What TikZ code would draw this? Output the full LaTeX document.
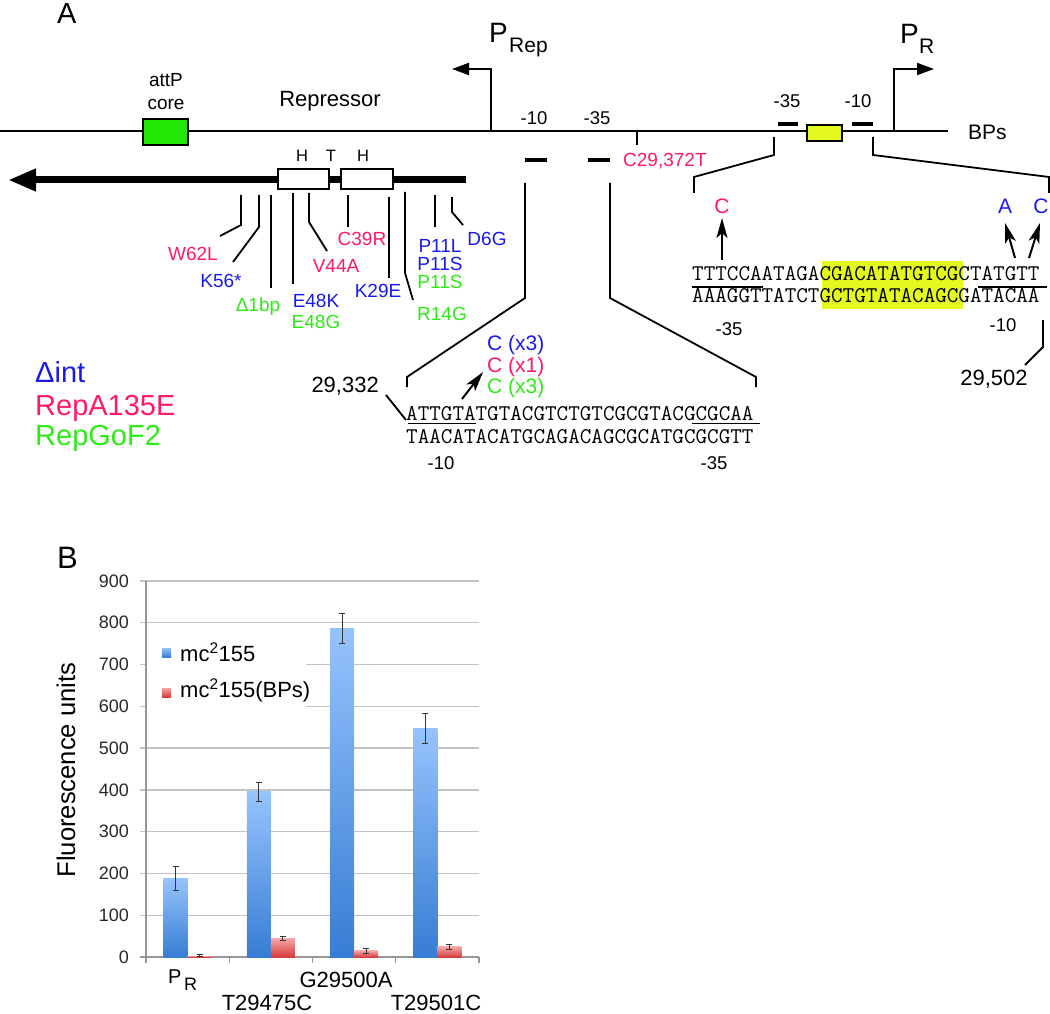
\documentclass[tikz,border=0pt]{standalone}
\usepackage{fontspec}
\setmainfont{Liberation Sans}
\usetikzlibrary{arrows.meta}

\definecolor{mutblue}{RGB}{25,25,235}
\definecolor{mutpink}{RGB}{255,25,105}
\definecolor{mutgreen}{RGB}{45,235,20}
\definecolor{attpgreen}{RGB}{35,230,5}
\definecolor{opyellow}{RGB}{228,250,30}
\definecolor{gridgray}{RGB}{195,195,195}
\definecolor{axisgray}{RGB}{150,150,150}
\definecolor{ticktext}{RGB}{40,40,40}
\definecolor{bluetop}{RGB}{150,195,252}
\definecolor{bluebot}{RGB}{55,125,212}
\definecolor{redtop}{RGB}{246,165,165}
\definecolor{redbot}{RGB}{214,60,60}

\newcommand{\pxfont}[1]{\fontsize{#1}{#1}\selectfont}

\tikzset{
  mapline/.style={draw, line width=1.3pt},
  geneline/.style={draw, line width=7pt,
                   -{Triangle[length=28pt, width=21pt]}},
  promoter/.style={draw, line width=2pt,
                   -{Triangle[length=17pt, width=12pt]}},
  attpbox/.style={draw, fill=attpgreen, line width=1.3pt, inner sep=0pt,
                  minimum width=45pt, minimum height=26pt},
  opbox/.style={draw, fill=opyellow, line width=1.3pt, inner sep=0pt,
                minimum width=35pt, minimum height=16pt},
  domainbox/.style={draw, fill=white, line width=1.3pt, inner sep=0pt,
                    minimum height=20pt},
  boxdash/.style={draw, line width=4.5pt},
  tickline/.style={draw, line width=1.8pt},
  zoomline/.style={draw, line width=1.8pt},
  seqline/.style={draw, line width=1.4pt},
  mutarrow/.style={draw, line width=2pt,
                   -{Stealth[length=20pt, width=11pt, inset=5pt]}},
  maptext/.style={inner sep=0pt, anchor=base, font=\pxfont{22}},
  boxtag/.style={maptext, font=\pxfont{18.5}},
  mutlabel/.style={maptext, font=\pxfont{19}},
  seqtext/.style={inner sep=0pt, anchor=base west,
                  font=\ttfamily\pxfont{22.48}},
  legendtext/.style={inner sep=0pt, anchor=base west, font=\pxfont{29}},
  chartgrid/.style={draw=gridgray, line width=1.3pt},
  chartaxis/.style={draw=axisgray, line width=1.3pt},
  ticklabel/.style={inner sep=0pt, anchor=east, text=ticktext,
                    font=\pxfont{18}},
  bluebar/.style={top color=bluetop, bottom color=bluebot},
  redbar/.style={top color=redtop, bottom color=redbot},
  errbar/.style={draw=black!80, line width=1pt}
}

\begin{document}
\begin{tikzpicture}[x=1pt, y=-1pt]
  \useasboundingbox (0,0) rectangle (1050,1014);

  % A: the prophage map
  \node[maptext, anchor=base west, font=\pxfont{29}] (tagA) at (57,24) {A};
  \coordinate (mapL) at (0,131);
  \coordinate (mapR) at (948,131);
  \draw[mapline] (mapL) -- (mapR);
  \node[maptext, anchor=base west, font=\pxfont{21}] (bps) at (968,140) {BPs};

  \node[attpbox] (attp) at (165.5,132) {};
  \node[mutlabel] (attp1) at (166,87) {attP};
  \node[mutlabel] (attp2) at (166,110) {core};
  \node[maptext] (repr) at (330,107) {Repressor};

  \coordinate (prepfoot) at (491,131);
  \coordinate (preptip) at (452,69);
  \draw[promoter] (prepfoot) |- (preptip);
  \node[maptext, anchor=base west, font=\pxfont{28}] (prepP) at (489,43) {P};
  \node[maptext, anchor=base west, font=\pxfont{21}] (prepsub) at (509,53) {Rep};
  \coordinate (prfoot) at (894,131);
  \coordinate (prtip) at (934,69);
  \draw[promoter] (prfoot) |- (prtip);
  \node[maptext, anchor=base west, font=\pxfont{28}] (prP) at (900,44) {P};
  \node[maptext, anchor=base west, font=\pxfont{21}] (prsub) at (919,54) {R};

  \node[boxtag] (rep10) at (534,125) {-10};
  \node[boxtag] (rep35) at (597,125) {-35};
  \draw[boxdash] (525,160) -- (547,160);
  \draw[boxdash] (588,160) -- (610,160);
  \node[boxtag] (pr35) at (787,108) {-35};
  \node[boxtag] (pr10) at (858,108) {-10};
  \draw[boxdash] (778,124) -- (798,124);
  \draw[boxdash] (852,124) -- (873,124);
  \node[opbox] (op) at (824.5,133) {};

  \coordinate (c29) at (637,131);
  \draw[tickline] (c29) -- ++(0,14);
  \node[mutlabel, anchor=base west, text=mutpink] (c29lab) at (623,167) {C29,372T};

  % repressor gene and its mutations
  \coordinate (geneS) at (466,180);
  \coordinate (geneE) at (8,180);
  \draw[geneline] (geneS) -- (geneE);
  \node[domainbox, minimum width=51pt] (hth1) at (303.5,179) {};
  \node[domainbox, minimum width=52pt] (hth2) at (367,179) {};
  \node[maptext, font=\pxfont{16.5}] (dH1) at (302,162) {H};
  \node[maptext, font=\pxfont{16.5}] (dT) at (331,162) {T};
  \node[maptext, font=\pxfont{16.5}] (dH2) at (363,162) {H};

  \draw[tickline] (241,195) coordinate (mW62L) -- ++(0,30) -- ++(-21,11);
  \draw[tickline] (259,195) coordinate (mK56) -- ++(0,32) -- ++(-26,35);
  \draw[tickline] (271,195) coordinate (mD1bp) -- ++(0,93);
  \draw[tickline] (293,193) coordinate (mE48) -- ++(0,91);
  \draw[tickline] (309,193) coordinate (mV44A) -- ++(0,29) -- ++(18,29);
  \draw[tickline] (348,195) coordinate (mC39R) -- ++(0,32);
  \draw[tickline] (389,197) coordinate (mK29E) -- ++(0,81);
  \draw[tickline] (405,192) coordinate (mR14G) -- ++(0,81) -- ++(8,27);
  \draw[tickline] (435,195) coordinate (mP11) -- ++(0,32);
  \draw[tickline] (452,197) coordinate (mD6G) -- ++(0,15) -- ++(11,13);

  \node[mutlabel, text=mutpink] (w62l) at (193,260) {W62L};
  \node[mutlabel, text=mutblue] (k56) at (221,287) {K56*};
  \node[mutlabel, text=mutgreen] (d1bp) at (258,311) {Δ1bp};
  \node[mutlabel, text=mutblue] (e48k) at (316,307) {E48K};
  \node[mutlabel, text=mutgreen] (e48g) at (316,328) {E48G};
  \node[mutlabel, text=mutpink] (v44a) at (336,272) {V44A};
  \node[mutlabel, text=mutpink] (c39r) at (362,245) {C39R};
  \node[mutlabel, text=mutblue] (k29e) at (378,297) {K29E};
  \node[mutlabel, text=mutgreen] (r14g) at (442,320) {R14G};
  \node[mutlabel, text=mutblue] (p11l) at (440,252) {P11L};
  \node[mutlabel, text=mutblue] (p11s) at (440,270) {P11S};
  \node[mutlabel, text=mutgreen] (p11sg) at (440,288) {P11S};
  \node[mutlabel, text=mutblue] (d6g) at (487,245) {D6G};

  % close-up of P_Rep
  \coordinate (rep10foot) at (525,183);
  \coordinate (rep35foot) at (610,183);
  \draw[zoomline] (rep10foot) -- ++(0,115) -- (407,377) -- ++(0,10);
  \draw[zoomline] (rep35foot) -- ++(0,115) -- (756,377) -- ++(0,10);
  \node[seqtext] (repTop) at (406,420) {ATTGTATGTACGTCTGTCGCGTACGCGCAA};
  \node[seqtext] (repBot) at (406,443) {TAACATACATGCAGACAGCGCATGCGCGTT};
  \draw[seqline] (408,423.5) -- (476,423.5);
  \draw[seqline] (692,423.5) -- (760,423.5);
  \node[boxtag] (rep10b) at (441,469) {-10};
  \node[boxtag] (rep35b) at (714,469) {-35};
  \node[maptext, anchor=base east] (pos332) at (379,392) {29,332};
  \draw[tickline] (386,395) -- (repTop.base west);
  \node[maptext, anchor=base west, font=\pxfont{21}, text=mutblue] (cx3a) at (487,350) {C (x3)};
  \node[maptext, anchor=base west, font=\pxfont{21}, text=mutpink] (cx1) at (487,372) {C (x1)};
  \node[maptext, anchor=base west, font=\pxfont{21}, text=mutgreen] (cx3b) at (487,393) {C (x3)};
  \draw[mutarrow] (462,399) -- (483,372);

  % close-up of P_R
  \coordinate (pr35foot) at (774,137);
  \coordinate (pr10foot) at (873,137);
  \draw[zoomline] (pr35foot) -- ++(0,18) -- (694,177) -- ++(0,16);
  \draw[zoomline] (pr10foot) -- ++(0,18) -- (1049,177) -- ++(0,16);
  \fill[opyellow] (822,261) rectangle (963,309);
  \node[seqtext] (prTop) at (692,280) {TTTCCAATAGACGACATATGTCGCTATGTT};
  \node[seqtext] (prBot) at (692,302) {AAAGGTTATCTGCTGTATACAGCGATACAA};
  \draw[seqline] (692,287) -- (763,287);
  \draw[seqline] (978,287) -- (1047,287);
  \node[boxtag] (pr35b) at (729,335) {-35};
  \node[boxtag] (pr10b) at (1003,331) {-10};
  \node[maptext] (pos502) at (994,385) {29,502};
  \draw[tickline] (1043,320) -- ++(0,27) -- (1025,365);
  \node[maptext, font=\pxfont{21}, text=mutpink] (subC) at (722,213) {C};
  \node[maptext, font=\pxfont{21}, text=mutblue] (subA) at (1005,213) {A};
  \node[maptext, font=\pxfont{21}, text=mutblue] (subC2) at (1041,213) {C};
  \draw[mutarrow] (722,260) -- (722,218);
  \draw[mutarrow] (1015,258) -- (1005,223);
  \draw[mutarrow] (1029,258) -- (1040,223);

  \node[legendtext, text=mutblue] (lgint) at (35,382) {Δint};
  \node[legendtext, text=mutpink] (lgrep) at (35,415) {RepA135E};
  \node[legendtext, text=mutgreen] (lggof) at (35,445) {RepGoF2};

  % B: the bar chart
  \node[maptext, anchor=base west, font=\pxfont{31}] (tagB) at (57,568) {B};
  \foreach \v in {0,100,...,900} {
    \draw[chartgrid] (140,{957-0.4178*\v}) -- (479,{957-0.4178*\v});
    \node[ticklabel] (tick\v) at (129,{957-0.4178*\v}) {\v};
  }
  \draw[chartaxis] (146,581) -- (146,957);
  \draw[chartaxis] (140,957) -- (479,957);
  \foreach \k in {0,...,4}
    \draw[chartaxis] ({146+83.25*\k},957) -- ++(0,6);
  \fill[white] (147,632) rectangle (306,718);

  \foreach \g/\vb/\eb/\vr/\er in {0/188/28/3/2, 1/395/23/44/5,
                                  2/786/35/15/6, 3/546/36/24/5} {
    \pgfmathsetmacro{\xc}{187.625+83.25*\g}
    \shade[bluebar] ({\xc-24},957) rectangle (\xc,{957-0.4178*\vb});
    \shade[redbar] (\xc,957) rectangle ({\xc+24},{957-0.4178*\vr});
    \draw[errbar] ({\xc-12},{957-0.4178*(\vb+\eb)}) -- ({\xc-12},{957-0.4178*(\vb-\eb)})
      ({\xc-15},{957-0.4178*(\vb+\eb)}) -- ++(6,0)
      ({\xc-15},{957-0.4178*(\vb-\eb)}) -- ++(6,0);
    \draw[errbar] ({\xc+12},{957-0.4178*(\vr+\er)}) -- ({\xc+12},{957-0.4178*(\vr-\er)})
      ({\xc+9},{957-0.4178*(\vr+\er)}) -- ++(6,0)
      ({\xc+9},{957-0.4178*(\vr-\er)}) -- ++(6,0);
  }

  \shade[bluebar] (162,648) rectangle (171,657);
  \shade[redbar] (162,688) rectangle (171,697);
  \node[maptext, anchor=base west] (lgwt) at (180,661) {mc\textsuperscript{2}155};
  \node[maptext, anchor=base west] (lgbps) at (180,697) {mc\textsuperscript{2}155(BPs)};

  \node[rotate=90, inner sep=0pt, font=\pxfont{25.6}] (ytitle) at (66,770) {Fluorescence units};

  \node[maptext, anchor=base west, font=\pxfont{20}] (catP) at (168,983) {P};
  \node[maptext, anchor=base west, font=\pxfont{18}] (catR) at (184,990) {R};
  \node[maptext] (cat475) at (267,1010) {T29475C};
  \node[maptext] (cat500) at (346,987) {G29500A};
  \node[maptext] (cat501) at (436,1010) {T29501C};
\end{tikzpicture}
\end{document}
